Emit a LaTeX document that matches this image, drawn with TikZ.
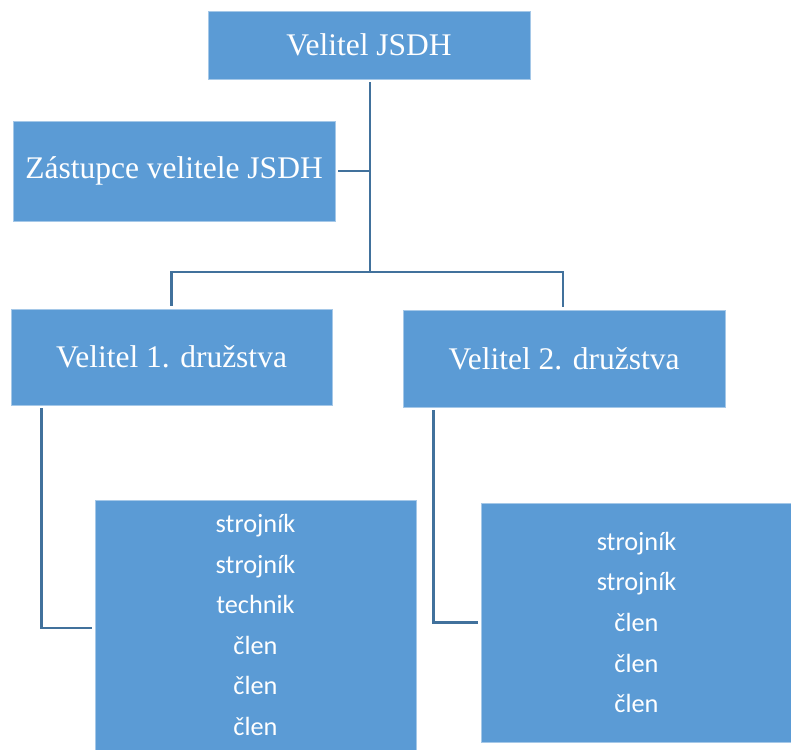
\documentclass[tikz,border=0pt]{standalone}
\usepackage{fontspec}
\setmainfont{Liberation Serif}
\newfontfamily\listfont{Carlito}
\usepackage{xcolor}
\usetikzlibrary{positioning,calc}
\definecolor{boxfill}{HTML}{5B9BD5}
\definecolor{linecol}{HTML}{41719C}
\tikzset{
    titlebox/.style={fill=boxfill, draw=boxfill!55!white, line width=0.6pt, inner sep=0pt,
        text=white, font=\fontsize{31.5}{36}\selectfont},
    listbox/.style={fill=boxfill, draw=boxfill!55!white, line width=0.6pt, inner sep=0pt,
        text=white, align=center, font=\listfont\fontsize{26.3}{40.6}\selectfont},
    conn/.style={draw=linecol, line width=2.6pt}
}
\begin{document}
\begin{tikzpicture}[x=1pt,y=-1pt]
    \useasboundingbox (0,0) rectangle (791,749);
    % boxes
    \node[titlebox, minimum width=322pt, minimum height=68pt] (top) at (369,45) {Velitel JSDH};
    \node[titlebox, minimum width=322pt, minimum height=100pt] (zast) at (174,171) {Zástupce velitele JSDH};
    \node[titlebox, minimum width=321pt, minimum height=96pt] (vel1) at (171.5,357) {Velitel 1. družstva};
    \node[titlebox, minimum width=322pt, minimum height=97pt] (vel2) at (564,358.5) {Velitel 2. družstva};
    \node[listbox, minimum width=321pt, minimum height=250pt] (list1) at (255.5,625)
        {strojník\\strojník\\technik\\člen\\člen\\člen};
    \node[listbox, minimum width=311pt, minimum height=239pt] (list2) at (636.5,622.5)
        {strojník\\strojník\\člen\\člen\\člen};
    \coordinate (hub) at (370,272);

    % connectors
    \draw[conn] ([yshift=-3pt]top.south -| hub) -- (hub);
    \draw[conn] ([xshift=3pt]zast.east) -- (zast.east -| hub);
    \draw[conn] ([yshift=3pt]vel1.north) |- (hub) -| ([xshift=-1pt,yshift=3pt]vel2.north);
    \draw[conn] ([xshift=31pt,yshift=-3pt]vel1.south west) |- ([xshift=-3pt,yshift=-3pt]list1.west);
    \draw[conn] ([xshift=31pt,yshift=-3pt]vel2.south west) |- ([xshift=-3pt]list2.west);
\end{tikzpicture}
\end{document}
